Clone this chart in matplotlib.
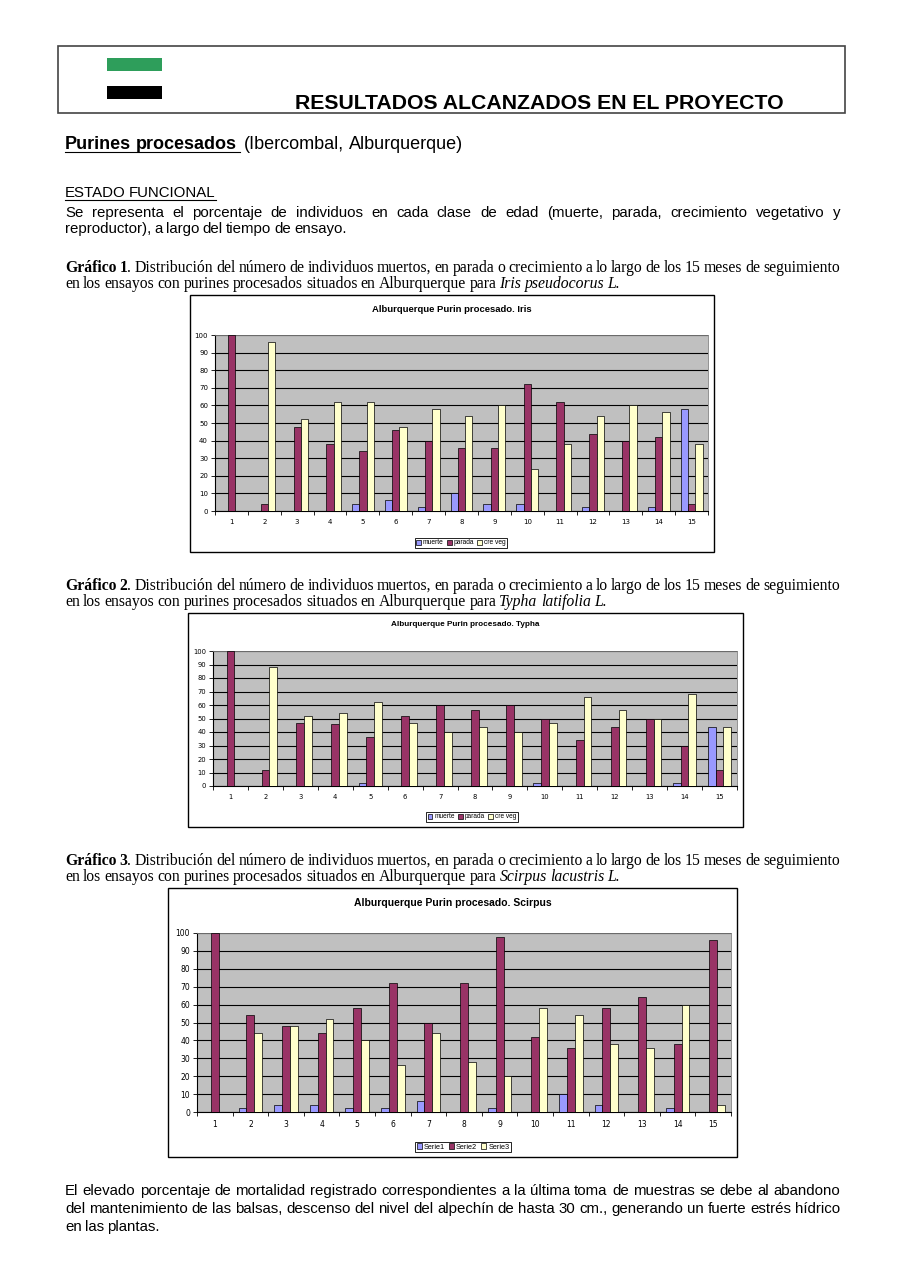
# coding: utf-8

"""
Resultados alcanzados - purines procesados (Alburquerque)
"""

import matplotlib
matplotlib.use("Agg")
import matplotlib.pyplot as plt
from matplotlib.lines import Line2D
from matplotlib.patches import Rectangle
import numpy as np

#==========
# Datos

meses = [str(i) for i in range(1, 16)]

iris_muerte = [0, 0, 0, 0, 4, 6, 2, 10, 4, 4, 0, 2, 0, 2, 58]
iris_parada = [100, 4, 48, 38, 34, 46, 40, 36, 36, 72, 62, 44, 40, 42, 4]
iris_creveg = [0, 96, 52, 62, 62, 48, 58, 54, 60, 24, 38, 54, 60, 56, 38]

typha_muerte = [0, 0, 0, 0, 2, 0, 0, 0, 0, 2, 0, 0, 0, 2, 44]
typha_parada = [100, 12, 47, 46, 36, 52, 60, 56, 60, 50, 34, 44, 50, 30, 12]
typha_creveg = [0, 88, 52, 54, 62, 47, 40, 44, 40, 47, 66, 56, 50, 68, 44]

scirpus_serie1 = [0, 2, 4, 4, 2, 2, 6, 0, 2, 0, 10, 4, 0, 2, 0]
scirpus_serie2 = [100, 54, 48, 44, 58, 72, 50, 72, 98, 42, 36, 58, 64, 38, 96]
scirpus_serie3 = [0, 44, 48, 52, 40, 26, 44, 28, 20, 58, 54, 38, 36, 60, 4]

nombres_a = ["muerte", "parada", "cre veg"]
nombres_b = ["Serie1", "Serie2", "Serie3"]
colores = ["#9999FF", "#993366", "#FFFFCC"]

SANS = "Liberation Sans"
SERIF = "Liberation Serif"

W, H = 905, 1280
fig = plt.figure(figsize=(W / 100, H / 100), dpi=100)
renderer = fig.canvas.get_renderer()

def fx(x): return x / W
def fy(y): return 1 - y / H

def text_width(s, size, family, weight="normal", style="normal"):
	t = fig.text(0, 0, s, fontsize=size, family=family, weight=weight, style=style)
	w = t.get_window_extent(renderer).width
	t.remove()
	return w

def fit_size(s, target, family, weight="normal"):
	return 10 * target / text_width(s, 10, family, weight)

# *negrita* _cursiva_
def parse(line):
	words = []
	bold = False; ital = False
	for raw in line.split(" "):
		segs = []; cur = ""
		for ch in raw:
			if ch in "*_":
				if cur: segs.append((cur, bold, ital))
				cur = ""
				if ch == "*": bold = not bold
				else: ital = not ital
			else:
				cur += ch
		if cur: segs.append((cur, bold, ital))
		if segs: words.append(segs)
	return words

def draw_line(line, x0, y, size, family, x1=None, sp=0.8):
	words = parse(line)
	arts = []; widths = []
	for word in words:
		segs = []; wsum = 0
		for s, b, i in word:
			t = fig.text(0, fy(y), s, fontsize=size, family=family,
				weight="bold" if b else "normal", style="italic" if i else "normal",
				va="baseline", ha="left")
			w = t.get_window_extent(renderer).width
			segs.append((t, w)); wsum += w
		arts.append(segs); widths.append(wsum)
	space = sp * (text_width("a a", size, family) - text_width("aa", size, family))
	if x1 is not None and len(words) > 1:
		gap = (x1 - x0 - sum(widths)) / (len(words) - 1)
	else:
		gap = space
	x = x0
	for segs, w in zip(arts, widths):
		xx = x
		for t, sw in segs:
			t.set_x(fx(xx)); xx += sw
		x += w + gap
	return x - gap

def underline(x0, x1, y):
	fig.add_artist(Line2D([fx(x0), fx(x1)], [fy(y), fy(y)], color="black", lw=0.8))

def rect(x0, y0, x1, y1, **kw):
	fig.add_artist(Rectangle((fx(x0), fy(y1)), (x1 - x0) / W, (y1 - y0) / H,
		transform=fig.transFigure, **kw))

#==========
# Cabecera

rect(58, 46, 845, 113, fill=False, ec="#444444", lw=1.2)
rect(107, 58, 162, 71, fc="#2E9E5B", ec="none")
rect(107, 86, 162, 99, fc="black", ec="none")

cab = "RESULTADOS ALCANZADOS EN EL PROYECTO"
fig.text(fx(295), fy(109), cab, fontsize=fit_size(cab, 488, SANS, "bold"),
	family=SANS, weight="bold", va="baseline")

sub_size = fit_size("(Ibercombal, Alburquerque)", 219, SANS)
draw_line("*Purines procesados*", 65, 149, sub_size, SANS, sp=1.0)
underline(65, 240, 152)
draw_line("(Ibercombal, Alburquerque)", 244, 149, sub_size, SANS, sp=1.0)

body = fit_size("ESTADO FUNCIONAL", 151, SANS)
e = draw_line("ESTADO FUNCIONAL", 65, 197, body, SANS)
underline(65, e, 199.5)
draw_line("Se representa el porcentaje de individuos en cada clase de edad (muerte, parada, crecimiento vegetativo y",
	65, 217, body, SANS, 840)
draw_line("reproductor), a largo del tiempo de ensayo.", 65, 233, body, SANS)

serif = 1.03 * fit_size("en los ensayos con purines procesados situados en Alburquerque para Iris pseudocorus L.", 545, SERIF)

def caption(n, especie, y):
	draw_line("*Gráfico* *%d*. Distribución del número de individuos muertos, en parada o crecimiento a lo largo de los 15 meses de seguimiento" % n,
		65, y, serif, SERIF, 840)
	draw_line("en los ensayos con purines procesados situados en Alburquerque para _%s_" % especie,
		65, y + 16, serif, SERIF)

caption(1, "Iris pseudocorus L.", 272)
caption(2, "Typha latifolia L.", 590)
caption(3, "Scirpus lacustris L.", 865)

#==========
# Graficos

def chart(box, area, titulo, ty, tw, series, nombres, lx, ly, fs):
	rect(*box, fill=False, ec="black", lw=1.0)
	l, t, r, b = area
	ax = fig.add_axes([fx(l), fy(b), (r - l) / W, (b - t) / H])
	ax.set_facecolor("#C0C0C0")
	x = np.arange(len(meses))
	bw = 1 / 4.5
	for k, (vals, c, nom) in enumerate(zip(series, colores, nombres)):
		ax.bar(x + (k - 1) * bw, vals, bw, color=c, edgecolor="black", lw=0.5, label=nom, zorder=3)
	ax.set_xlim(-0.5, len(meses) - 0.5)
	ax.set_ylim(0, 100)
	ax.set_yticks(range(0, 101, 10))
	ax.yaxis.grid(True, color="black", lw=0.8, zorder=1)
	ax.set_axisbelow(True)
	ax.set_xticks(np.arange(-0.5, len(meses), 1))
	ax.set_xticklabels([])
	ax.set_xticks(x, minor=True)
	ax.set_xticklabels(meses, minor=True)
	ax.tick_params(axis="x", which="major", length=3, width=0.6)
	ax.tick_params(axis="x", which="minor", length=0, labelsize=fs, pad=6)
	ax.tick_params(axis="y", length=3, width=0.6, labelsize=fs, pad=2)
	for s in ["top", "right"]:
		ax.spines[s].set_color("#808080"); ax.spines[s].set_linewidth(0.6)
	for s in ["left", "bottom"]:
		ax.spines[s].set_linewidth(0.8)
	fig.text(fx((box[0] + box[2]) / 2), fy(ty), titulo, fontsize=fit_size(titulo, tw, SANS, "bold"),
		family=SANS, weight="bold", ha="center", va="center")
	leg = ax.legend(loc="center", bbox_to_anchor=(fx(lx), fy(ly)), bbox_transform=fig.transFigure,
		ncol=3, frameon=True, fancybox=False, edgecolor="black", framealpha=1,
		handlelength=0.7, handleheight=0.7, handletextpad=0.3, columnspacing=0.5,
		borderpad=0.25, borderaxespad=0, prop={"family": SANS, "size": fs - 0.2})
	leg.get_frame().set_linewidth(0.6)
	return ax

ax1 = chart((190, 295, 714, 552), (215, 335, 708, 511), "Alburquerque Purin procesado. Iris", 309, 160,
	[iris_muerte, iris_parada, iris_creveg], nombres_a, 461, 543, 5)
ax2 = chart((188, 613, 743, 827), (213, 651, 737, 786), "Alburquerque Purin procesado. Typha", 625, 149,
	[typha_muerte, typha_parada, typha_creveg], nombres_a, 472, 817, 4.9)
ax3 = chart((168, 888, 737, 1157), (197, 933, 731, 1112), "Alburquerque Purin procesado. Scirpus", 903, 197,
	[scirpus_serie1, scirpus_serie2, scirpus_serie3], nombres_b, 463, 1147, 5.5)

#==========
# Texto final

draw_line("El elevado porcentaje de mortalidad registrado correspondientes a la última toma de muestras se debe al abandono",
	65, 1195, body, SANS, 840)
draw_line("del mantenimiento de las balsas, descenso del nivel del alpechín de hasta 30 cm., generando un fuerte estrés hídrico",
	65, 1213, body, SANS, 840)
draw_line("en las plantas.", 65, 1231, body, SANS)

fig.savefig("out.png", dpi=100)
